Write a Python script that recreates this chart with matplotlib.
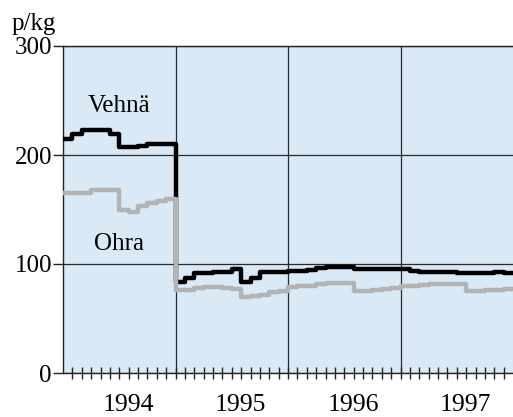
import matplotlib.pyplot as plt
import matplotlib.transforms as mtransforms
import numpy as np

# monthly prices, p/kg, Jan 1994 .. Dec 1997
vehna = [215, 219, 223, 223, 223, 219.5, 207, 207, 208, 210.5, 210.5, 210,
         83.5, 87, 91.5, 92, 92.5, 93, 95, 83.5, 87, 92.5, 93, 93,
         93.5, 94, 94.5, 96, 97, 97, 97, 95, 95, 95, 95, 95,
         95, 94, 93, 93, 93, 92.5, 92, 92, 92, 92, 92.5, 92]
ohra = [165, 165, 165, 168, 168, 168, 150, 148, 153, 156, 158, 160,
        76, 76, 78, 78.5, 79, 78, 77, 70, 70.5, 72, 74, 75.5,
        79, 79.5, 80, 82, 82.5, 82.5, 82.5, 75, 75.5, 76, 77, 78,
        79.5, 80, 81, 82, 82, 82, 82, 75, 75, 76, 76.5, 77]
years = [1994, 1995, 1996, 1997]
yticks = [0, 100, 200, 300]

plt.rcParams['font.family'] = ['Liberation Serif', 'DejaVu Serif']

fig = plt.figure(figsize=(5.13, 4.17), dpi=100)
ax = fig.add_axes([63 / 513, 44 / 417, 1 - 63 / 513, 327 / 417])
ax.set_facecolor('#d9e9f6')

x = 1994 + np.arange(len(vehna) + 1) / 12
ax.step(x, vehna + [vehna[-1]], where='post', color='black', lw=3.2, zorder=3)
ax.step(x, ohra + [ohra[-1]], where='post', color='#b3b3b3', lw=3.2, zorder=4)

ax.set_xlim(1994, 1998)
ax.set_ylim(0, 300)

ax.set_yticks(yticks)
ax.set_yticklabels([str(v) for v in yticks], fontsize=18)
ax.tick_params(axis='y', direction='out', length=7, width=1, pad=1, color='#222')

ax.set_xticks(years[1:])
ax.set_xticklabels([])
ax.set_xticks(1994 + np.arange(1, 48) / 12, minor=True)
ax.tick_params(axis='x', which='both', direction='inout', length=8, width=1, color='#222')

ax.grid(True, which='major', color='#2a2a2a', lw=0.9)
ax.set_axisbelow(True)

for side in ['left', 'top', 'bottom']:
    ax.spines[side].set_color('#222')
    ax.spines[side].set_linewidth(1)
ax.spines['right'].set_visible(False)

trans = mtransforms.blended_transform_factory(ax.transData, ax.transAxes)
for yr in years:
    ax.text(yr + 0.58, -0.065, str(yr), transform=trans, ha='center', va='top', fontsize=18.5)

ax.text(1994.5, 239, 'Vehnä', ha='center', va='baseline', fontsize=18, zorder=5)
ax.text(1994.5, 113, 'Ohra', ha='center', va='baseline', fontsize=18, zorder=5)
fig.text(12 / 513, 1 - 13 / 417, 'p/kg', ha='left', va='top', fontsize=18)

fig.savefig('out.png', dpi=100)
